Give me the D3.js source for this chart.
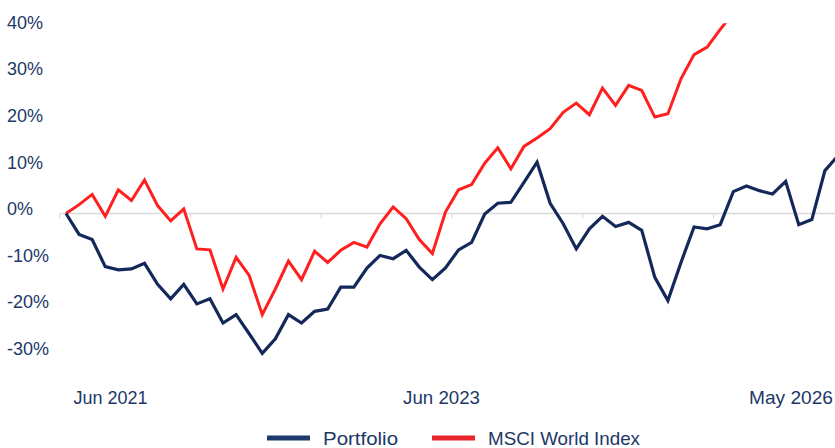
<!DOCTYPE html>
<html>
<head>
<meta charset="utf-8">
<script src="https://cdn.jsdelivr.net/npm/d3@7"></script>
<style>
  body { margin: 0; background: #fff; }
  svg { display: block; }
</style>
</head>
<body>
<div id="chart"></div>
<script>
// Monthly cumulative returns (%)
const portfolio = [
  0, -4.5, -5.6, -11.4, -12.1, -11.9, -10.7, -15.2, -18.3, -15.2,
  -19.4, -18.3, -23.5, -21.7, -25.8, -30.0, -26.9, -21.7, -23.5, -21.0,
  -20.5, -15.8, -15.8, -11.7, -9.0, -9.7, -7.9, -11.5, -14.2, -11.7,
  -7.8, -6.2, -0.1, 2.2, 2.4, 6.7, 11.0, 2.2, -2.2, -7.6,
  -3.3, -0.6, -2.8, -1.9, -3.6, -13.7, -18.7, -10.5, -2.9, -3.3,
  -2.4, 4.7, 5.9, 4.9, 4.2, 6.9, -2.4, -1.3, 9.2, 12.4
];
const msci = [
  0, 1.9, 4.1, -0.6, 5.1, 2.8, 7.2, 1.7, -1.6, 1.0,
  -7.6, -7.8, -16.2, -9.4, -13.3, -21.7, -16.2, -10.2, -14.2, -8.1,
  -10.5, -7.9, -6.2, -7.2, -2.2, 1.4, -1.1, -5.6, -8.6, 0.3,
  5.1, 6.2, 10.8, 14.1, 9.6, 14.4, 16.2, 18.2, 21.7, 23.7,
  21.2, 26.9, 23.2, 27.5, 26.4, 20.7, 21.4, 28.9, 34.1, 35.7,
  39.5, 43
];
const yTicks = [40, 30, 20, 10, 0, -10, -20, -30];
const xLabels = ["Jun 2021", "Jun 2023", "May 2026"];
const xLabelAt = [3.4, 28.7, 55.5];
const seriesNames = ["Portfolio", "MSCI World Index"];

const W = 835, H = 448;
const blue = "#14285a";
const red = "#ff1f1f";
const textColor = "#1c3867";
const condensed = "'Liberation Sans', Arial, sans-serif";

const svg = d3.select("#chart").append("svg")
  .attr("width", W)
  .attr("height", H);

const x = d3.scaleLinear().domain([0, 59]).range([66, 838]);
const y = d3.scaleLinear().domain([-30, 40]).range([353.3, 27.1]);

// Clip lines just above the 40% level, like the source
svg.append("clipPath").attr("id", "plotclip")
  .append("rect")
  .attr("x", 0).attr("y", y(40.8))
  .attr("width", W).attr("height", H);

// Y labels
svg.selectAll(".ylab")
  .data(yTicks)
  .enter().append("text")
  .attr("class", "ylab")
  .attr("x", 7)
  .attr("y", d => y(d) - 4.4)
  .attr("dominant-baseline", "central")
  .style("font-family", "'Liberation Sans', Arial, sans-serif")
  .style("font-size", "18px")
  .style("fill", textColor)
  .text(d => d + "%");

// Zero line with category ticks
svg.append("line")
  .attr("x1", 60).attr("x2", W)
  .attr("y1", y(0)).attr("y2", y(0))
  .attr("stroke", "#d9d9d9")
  .attr("stroke-width", 1.5);

svg.selectAll(".xtick")
  .data(d3.range(0, 61, 10))
  .enter().append("line")
  .attr("class", "xtick")
  .attr("x1", d => x(d - 0.5)).attr("x2", d => x(d - 0.5))
  .attr("y1", y(0)).attr("y2", y(0) + 5)
  .attr("stroke", "#d9d9d9")
  .attr("stroke-width", 1);

// Lines
const line = d3.line()
  .x((d, i) => x(i))
  .y(d => y(d));

const plot = svg.append("g").attr("clip-path", "url(#plotclip)");

plot.append("path")
  .datum(msci)
  .attr("fill", "none")
  .attr("stroke", red)
  .attr("stroke-width", 3)
  .attr("d", line);

plot.append("path")
  .datum(portfolio)
  .attr("fill", "none")
  .attr("stroke", blue)
  .attr("stroke-width", 3.2)
  .attr("d", line);

// X labels (narrow face squeezed to the source widths)
const xLabelWidths = [74, 77, 84];
svg.selectAll(".xlab")
  .data(xLabels)
  .enter().append("text")
  .attr("class", "xlab")
  .attr("x", (d, i) => i === 2 ? W - 2 : x(xLabelAt[i]))
  .attr("y", 397)
  .attr("text-anchor", (d, i) => i === 2 ? "end" : "middle")
  .attr("dominant-baseline", "central")
  .attr("textLength", (d, i) => xLabelWidths[i])
  .attr("lengthAdjust", "spacingAndGlyphs")
  .style("font-family", condensed)
  .style("font-size", "19px")
  .style("fill", textColor)
  .text(d => d);

// Legend
const legend = svg.append("g");
const legendItems = [
  { name: seriesNames[0], color: "#1d3a6e", x0: 267, w: 75 },
  { name: seriesNames[1], color: "#e8262b", x0: 432, w: 152 }
];
legendItems.forEach(d => {
  legend.append("line")
    .attr("x1", d.x0).attr("x2", d.x0 + 43)
    .attr("y1", 438).attr("y2", 438)
    .attr("stroke", d.color)
    .attr("stroke-width", 5);
  legend.append("text")
    .attr("x", d.x0 + 56)
    .attr("y", 438)
    .attr("dominant-baseline", "central")
    .attr("textLength", d.w)
    .attr("lengthAdjust", "spacingAndGlyphs")
    .style("font-family", condensed)
    .style("font-size", "19px")
    .style("fill", textColor)
    .text(d.name);
});
</script>
</body>
</html>
